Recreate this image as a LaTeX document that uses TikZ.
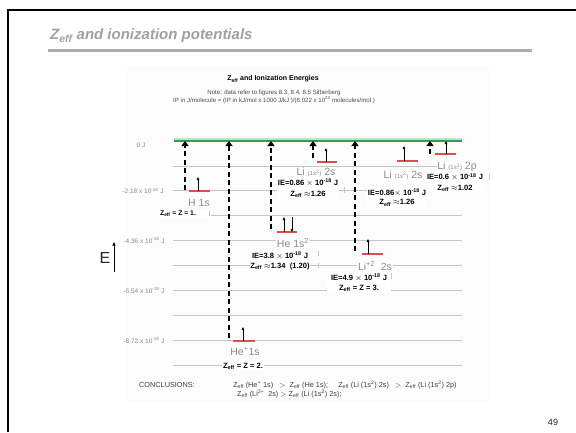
\documentclass[tikz,border=0pt]{standalone}
\usepackage{fontspec}
\setmainfont{Liberation Sans}
\usetikzlibrary{arrows.meta}
\definecolor{lvlgray}{HTML}{C4C4C4}
\definecolor{redlvl}{HTML}{E04B4F}
\definecolor{greenlvl}{HTML}{2E9E55}
\definecolor{txtgray}{HTML}{8A8A8A}
\definecolor{titlegray}{HTML}{A0A0A0}
\begin{document}
\begin{tikzpicture}[x=1pt,y=-1pt,
  lvl/.style={draw=lvlgray, line width=0.7pt},
  redline/.style={draw=redlvl, line width=1.6pt},
  ionarrow/.style={line width=2.8pt, dash pattern=on 5pt off 3.5pt, -{Triangle[length=5pt,width=7pt]}},
  elec/.style={line width=0.7pt, -{Triangle[length=3pt,width=2.6pt]}},
  statelbl/.style={text=txtgray, font=\fontsize{10.5}{10.5}\selectfont, inner sep=0.6pt, fill=white},
  ielbl/.style={font=\bfseries\fontsize{7.6}{10.5}\selectfont, fill=white, align=center, inner sep=0.8pt},
  axlbl/.style={text=txtgray, font=\fontsize{6.5}{6.5}\selectfont, inner sep=0pt},
  tickmk/.style={draw=black!22, line width=0.6pt},
  smalltxt/.style={font=\fontsize{7.3}{7.3}\selectfont}
]
\useasboundingbox (0,0) rectangle (576,432);
% slide frame
\draw[line width=2.5pt] (8,432) -- (8,10) -- (576,10);
% slide title
\node[anchor=west, text=titlegray, font=\bfseries\itshape\fontsize{15}{15}\selectfont, inner sep=0pt] (ttl) at (50,36) {Z\textsubscript{eff} and ionization potentials};
\fill[black!33] (48,49.3) rectangle (532,52.3);
% faint picture background
\fill[black!1] (127,66) rectangle (489,402);
% diagram title and notes
\node[font=\bfseries\fontsize{7}{7}\selectfont, inner sep=0pt] (dttl) at (273,79) {Z\textsubscript{eff} and Ionization Energies};
\node[font=\fontsize{6.1}{8}\selectfont, text=black!70, align=center, inner sep=0pt] (note) at (274,96.5) {Note: data refer to figures 8.3, 8.4, 8.5 Silberberg\\IP in J/molecule = (IP in kJ/mol x 1000 J/kJ )/(6.022 x 10\textsuperscript{23} molecules/mol )};
% energy levels
\foreach \k in {1,...,9} {\draw[lvl] (173,{141+24.9*\k}) -- (462,{141+24.9*\k});}
\draw[draw=greenlvl!30, line width=1.2pt] (174,139) -- (462,139);
\draw[draw=greenlvl, line width=1.8pt] (174,141) -- (462,141);
% axis labels
\node[axlbl] (l0) at (141,145) {0 J};
\node[axlbl] (l1) at (143,191) {-2.18 x 10\textsuperscript{-18} J};
\node[axlbl] (l2) at (144,240.6) {-4.36 x 10\textsuperscript{-18} J};
\node[axlbl] (l3) at (144,290.4) {-6.54 x 10\textsuperscript{-18} J};
\node[axlbl] (l4) at (144,340.2) {-8.72 x 10\textsuperscript{-18} J};
% E axis
\node[font=\fontsize{16}{16}\selectfont, text=black!85, inner sep=0pt] (E) at (105,258) {E};
\coordinate (Ea) at (114,272); \coordinate (Eb) at (114,242);
\draw[line width=0.8pt, -{Triangle[length=3.5pt,width=3pt]}] (Ea) -- (Eb);
% ---- H 1s
\coordinate (hbot) at (185,190); \coordinate (htop) at (185,141);
\draw[ionarrow] (hbot) -- (htop);
\coordinate (hL) at (189,191); \coordinate (hR) at (210,191);
\draw[redline] (hL) -- (hR);
\coordinate (he1) at (198,191); \coordinate (he2) at (198,177);
\draw[elec] (he1) -- (he2);
\node[statelbl] (hlab) at (199,202.5) {H 1s};
\node[ielbl, font=\bfseries\fontsize{6.8}{9}\selectfont, minimum width=50pt] (hz) at (185,214) {Z\textsubscript{eff} = Z = 1.\hspace{14pt}\null};
\draw[tickmk] (209,211) -- (209,216);
% ---- He+ 1s
\coordinate (hpbot) at (229,338); \coordinate (hptop) at (229,141);
\draw[ionarrow] (hpbot) -- (hptop);
\coordinate (hpL) at (233,341); \coordinate (hpR) at (255,341);
\draw[redline] (hpL) -- (hpR);
\coordinate (hpe1) at (243,341); \coordinate (hpe2) at (243,327);
\draw[elec] (hpe1) -- (hpe2);
\node[statelbl] (hplab) at (245,351.5) {He\textsuperscript{+}1s};
\node[ielbl] (hpz) at (243,366) {Z\textsubscript{eff} = Z = 2.};
% ---- He 1s2
\coordinate (hebot) at (271,229); \coordinate (hetop) at (271,141);
\draw[ionarrow] (hebot) -- (hetop);
\coordinate (heL) at (277,232); \coordinate (heR) at (297,232);
\draw[redline] (heL) -- (heR);
\coordinate (hee1) at (284,232); \coordinate (hee2) at (284,217);
\draw[elec] (hee1) -- (hee2);
\coordinate (hee3) at (292,217); \coordinate (hee4) at (292,232);
\draw[elec] (hee3) -- (hee4);
\node[statelbl] (helab) at (293,243) {He 1s\textsuperscript{2}};
\node[ielbl] (heie) at (280,261) {IE=3.8 $\times$ 10\textsuperscript{-18} J\\Z\textsubscript{eff} $\approx$1.34\ \ (1.20)};
\draw[tickmk] (318,251) -- (318,256);
\draw[tickmk] (318,263) -- (318,268);
% ---- Li 2s (first)
\coordinate (li1bot) at (313,158); \coordinate (li1top) at (313,141);
\draw[ionarrow] (li1bot) -- (li1top);
\coordinate (li1L) at (317,162); \coordinate (li1R) at (337,162);
\draw[redline] (li1L) -- (li1R);
\coordinate (li1e1) at (326,162); \coordinate (li1e2) at (326,148);
\draw[elec] (li1e1) -- (li1e2);
\node[statelbl] (li1lab) at (316,172.5) {Li {\fontsize{6}{6}\selectfont(1s\textsuperscript{2})} 2s};
\node[ielbl, font=\bfseries\fontsize{7.6}{11}\selectfont] (li1ie) at (308,188.5) {IE=0.86 $\times$ 10\textsuperscript{-18} J\\Z\textsubscript{eff} $\approx$1.26};
\draw[tickmk] (344,187) -- (344,193);
% ---- Li2+ 2s
\coordinate (li3bot) at (355,251); \coordinate (li3top) at (355,141);
\draw[ionarrow] (li3bot) -- (li3top);
\coordinate (li3L) at (362,254); \coordinate (li3R) at (383,254);
\draw[redline] (li3L) -- (li3R);
\coordinate (li3e1) at (368,254); \coordinate (li3e2) at (368,239);
\draw[elec] (li3e1) -- (li3e2);
\node[statelbl] (li3lab) at (375,266) {Li\textsuperscript{+2}\ \ 2s};
\node[ielbl, font=\bfseries\fontsize{7.6}{10}\selectfont, inner ysep=0.3pt, minimum width=64pt] (li3ie) at (359,283) {IE=4.9 $\times$ 10\textsuperscript{-18} J\\Z\textsubscript{eff} = Z = 3.};
\draw[tickmk] (391,273) -- (391,279);
% ---- Li 2s (second)
\coordinate (li2L) at (397,161); \coordinate (li2R) at (418,161);
\draw[redline] (li2L) -- (li2R);
\coordinate (li2e1) at (404,161); \coordinate (li2e2) at (404,146);
\draw[elec] (li2e1) -- (li2e2);
\node[statelbl] (li2lab) at (403,175) {Li {\fontsize{6}{6}\selectfont(1s\textsuperscript{2})} 2s};
\node[ielbl, font=\bfseries\fontsize{7.6}{9.5}\selectfont] (li2ie) at (397,197.5) {IE=0.86$\times$ 10\textsuperscript{-18} J\\Z\textsubscript{eff} $\approx$1.26};
% ---- Li 2p
\coordinate (lipbot) at (430,154); \coordinate (liptop) at (430,141);
\draw[ionarrow] (lipbot) -- (liptop);
\coordinate (lipL) at (435,154); \coordinate (lipR) at (456,154);
\draw[redline] (lipL) -- (lipR);
\coordinate (lipe1) at (446,154); \coordinate (lipe2) at (446,141);
\draw[elec] (lipe1) -- (lipe2);
\node[statelbl] (liplab) at (457,167) {Li {\fontsize{6}{6}\selectfont(1s\textsuperscript{2})} 2p};
\node[ielbl] (lipie) at (455,182.5) {IE=0.6 $\times$ 10\textsuperscript{-18} J\\Z\textsubscript{eff} $\approx$1.02};
\draw[tickmk] (489,174) -- (489,180);
% conclusions
\node[anchor=west, smalltxt, text=black!75, inner sep=0pt] (conc) at (139,385) {CONCLUSIONS:};
\node[anchor=west, smalltxt, text=black!75, inner sep=0pt] (c1) at (233,385) {Z\textsubscript{eff} (He\textsuperscript{+} 1s)\ \ \ $>$\ \ Z\textsubscript{eff} (He 1s);\ \ \ \ \ Z\textsubscript{eff} (Li (1s\textsuperscript{2}) 2s)\ \ \ $>$\ \ Z\textsubscript{eff} (Li (1s\textsuperscript{2}) 2p)};
\node[anchor=west, smalltxt, text=black!75, inner sep=0pt] (c2) at (237,393.5) {Z\textsubscript{eff} (Li\textsuperscript{2+}\ \ 2s)\ $>$\ Z\textsubscript{eff} (Li (1s\textsuperscript{2}) 2s);};
% page number
\node[font=\fontsize{9}{9}\selectfont, text=black!85, inner sep=0pt] (pg) at (553,422) {49};
\end{tikzpicture}
\end{document}
